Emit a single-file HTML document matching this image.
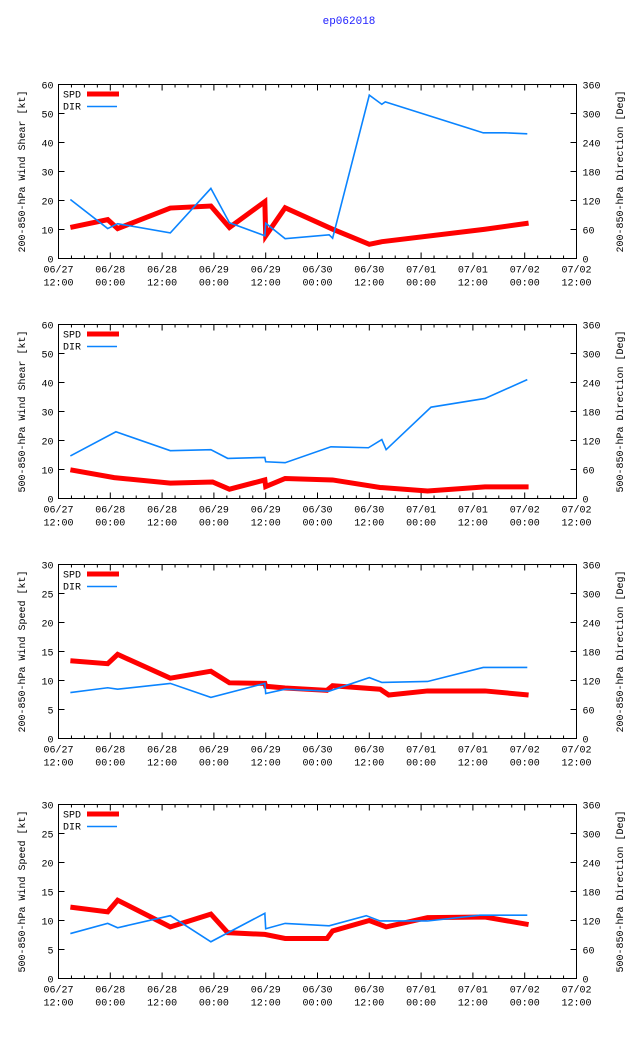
<!DOCTYPE html>
<html><head><meta charset="utf-8"><style>
body{margin:0;background:#fff;}
svg{display:block;font-family:"Liberation Mono",monospace;font-size:10px;}
</style></head><body>
<svg id="chart" width="640" height="1060" viewBox="0 0 640 1060">
<rect width="640" height="1060" fill="#fff"/>
<text x="349" y="24" fill="#2020ff" text-anchor="middle" font-size="11">ep062018</text>
</svg>
<script>
// hours since 06/27 12:00
const xTickLabels1 = ["06/27","06/28","06/28","06/29","06/29","06/30","06/30","07/01","07/01","07/02","07/02"];
const xTickLabels2 = ["12:00","00:00","12:00","00:00","12:00","00:00","12:00","00:00","12:00","00:00","12:00"];
const p1SpdT = [2.75,11.4,13.7,25.9,35.3,39.6,47.8,48,52.5,63.5,72,74.9,98.8,108.9];
const p1SpdV = [10.7,13.4,10.3,17.4,18.1,10.7,19.6,7.8,17.5,10.1,4.9,5.8,10.1,12.2];
const p1DirT = [2.75,11.4,13.7,25.9,35.3,39.6,47.8,48,52.5,62.7,63.5,72,74.9,75.7,98.4,103.5,108.6];
const p1DirV = [122,62,72,53,145,74,47,73,41,49,42,338,319,324,260,260,258];
const p2SpdT = [2.75,12.9,25.9,35.7,39.6,47.8,48,52.5,63.5,74.5,85.5,98.8,108.9];
const p2SpdV = [9.9,7.2,5.3,5.7,3.2,6.4,4.1,6.9,6.4,3.8,2.6,4.0,4.0];
const p2DirT = [2.75,13.3,25.9,35.3,39.2,47.8,48,52.5,63.1,71.8,74.9,75.9,86.3,98.8,108.6];
const p2DirV = [88,138,99,101,83,85,76,74,107,105,122,101,189,207,246];
const p3SpdT = [2.75,11.4,13.7,25.9,35.3,39.6,47.8,48,52.5,62.2,63.5,74.5,76.5,85.5,98.8,108.9];
const p3SpdV = [13.4,12.9,14.5,10.4,11.6,9.6,9.5,9.0,8.7,8.3,9.1,8.5,7.5,8.2,8.2,7.5];
const p3DirT = [2.75,11.4,13.7,25.9,35.3,47.8,48,52.5,62.7,72,74.9,85.5,98.4,108.6];
const p3DirV = [95,105,102,114,85,114,93,102,98,126,116,118,147,147];
const p4SpdT = [2.75,11.4,13.7,25.9,35.3,39.2,47.8,52.5,62.2,63.5,72,75.9,85.5,98.8,108.9];
const p4SpdV = [12.3,11.5,13.5,8.9,11.1,7.9,7.6,6.9,6.9,8.2,10.0,8.9,10.5,10.6,9.3];
const p4DirT = [2.75,11.4,13.7,25.9,35.3,47.8,48,52.5,62.7,71.3,74.5,85.5,97.6,108.6];
const p4DirV = [93,114,105,130,76,135,103,114,109,130,119,119,131,131];
const leftTicks1 = [0,10,20,30,40,50,60];
const leftTicks2 = [0,5,10,15,20,25,30];
const rightTicks = [0,60,120,180,240,300,360];

const panels = [
 {name:"shear-200-850", bottom:258, ymax:60, lt:leftTicks1, title:"200-850-hPa Wind Shear [kt]", rtitle:"200-850-hPa Direction [Deg]", st:p1SpdT, sv:p1SpdV, dt:p1DirT, dv:p1DirV},
 {name:"shear-500-850", bottom:498, ymax:60, lt:leftTicks1, title:"500-850-hPa Wind Shear [kt]", rtitle:"500-850-hPa Direction [Deg]", st:p2SpdT, sv:p2SpdV, dt:p2DirT, dv:p2DirV},
 {name:"speed-200-850", bottom:738, ymax:30, lt:leftTicks2, title:"200-850-hPa Wind Speed [kt]", rtitle:"200-850-hPa Direction [Deg]", st:p3SpdT, sv:p3SpdV, dt:p3DirT, dv:p3DirV},
 {name:"speed-500-850", bottom:978, ymax:30, lt:leftTicks2, title:"500-850-hPa Wind Speed [kt]", rtitle:"500-850-hPa Direction [Deg]", st:p4SpdT, sv:p4SpdV, dt:p4DirT, dv:p4DirV}
];
const svg = document.getElementById('chart');
const NS = "http://www.w3.org/2000/svg";
const X0 = 58.5, X1 = 576.5, H = 174;
function xs(h){ return X0 + h/120*(X1-X0); }
function mk(tag, attrs, parent){ const e=document.createElementNS(NS,tag); for(const k in attrs) e.setAttribute(k,attrs[k]); (parent||svg).appendChild(e); return e; }

panels.forEach(p=>{
  const g = mk('g',{});
  
  
  const yb = p.bottom + 0.5, yt = yb - H;
  const ys = v => yb - v/p.ymax*H;
  const yd = v => yb - v/360*H;
  // ticks
  let d = "";
  for(let i=0;i<=40;i++){
    const x = xs(i*3), len = (i%4===0)?6:3;
    d += `M${x},${yb}v${-len}M${x},${yt}v${len}`;
  }
  for(let i=0;i<p.lt.length;i++){
    const y = ys(p.lt[i]);
    d += `M${X0},${y}h6M${X1},${y}h-6`;
  }
  mk('path',{d:d,stroke:'#000','stroke-width':1,fill:'none'},g);
  const fr = mk('rect',{x:X0,y:yt,width:X1-X0,height:H,fill:'none',stroke:'#000','stroke-width':1},g);
  
  
  // x labels
  for(let i=0;i<xTickLabels1.length;i++){
    const x = xs(i*12);
    const t1 = mk('text',{x:x,y:yb+14,'text-anchor':'middle'},g); t1.textContent = xTickLabels1[i];
    
    
    const t2 = mk('text',{x:x,y:yb+27,'text-anchor':'middle'},g); t2.textContent = xTickLabels2[i];
    
    
  }
  for(let i=0;i<p.lt.length;i++){
    const t = mk('text',{x:X0-5,y:ys(p.lt[i])+4,'text-anchor':'end'},g); t.textContent = p.lt[i];
    
    
    const r = mk('text',{x:X1+6,y:yd(rightTicks[i])+4,'text-anchor':'start'},g); r.textContent = rightTicks[i];
    
    
  }
  const lt = mk('text',{x:0,y:0,'text-anchor':'middle',transform:`translate(25,${yb-H/2}) rotate(-90)`},g); lt.textContent = p.title;
  
  
  const rt = mk('text',{x:0,y:0,'text-anchor':'middle',transform:`translate(623,${yb-H/2}) rotate(-90)`},g); rt.textContent = p.rtitle;
  
  
  // series
  const spd = mk('polyline',{points:p.st.map((t,i)=>xs(t)+','+ys(p.sv[i])).join(' '),fill:'none',stroke:'#ff0000','stroke-width':5,'stroke-linejoin':'miter'},g);
  
  
  const dir = mk('polyline',{points:p.dt.map((t,i)=>xs(t)+','+yd(p.dv[i])).join(' '),fill:'none',stroke:'#0a84ff','stroke-width':1.6},g);
  
  
  // legend
  const l1 = mk('text',{x:63,y:yt+13},g); l1.textContent='SPD';
  
  
  const s1 = mk('line',{x1:87,x2:119,y1:yt+9.5,y2:yt+9.5,stroke:'#ff0000','stroke-width':5},g);
  
  
  const l2 = mk('text',{x:63,y:yt+25},g); l2.textContent='DIR';
  
  
  const s2 = mk('line',{x1:87,x2:117,y1:yt+22,y2:yt+22,stroke:'#0a84ff','stroke-width':1.6},g);
  
  
});
</script>
</body></html>
